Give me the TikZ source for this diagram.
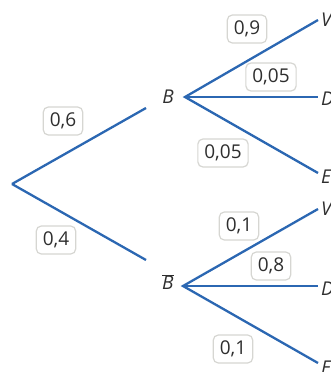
\documentclass[tikz,border=0pt]{standalone}
\usepackage{fontspec}
\setmainfont{Open Sans}
\definecolor{branch}{HTML}{2B67B2}
\definecolor{boxline}{HTML}{D6D6D2}
\definecolor{txt}{HTML}{2E2E2E}
\begin{document}
\begin{tikzpicture}[x=1pt,y=-1pt,
  edge/.style={draw=branch,line width=2.3pt},
  prob/.style={draw=boxline,fill=white,line width=1.2pt,rounded corners=5pt,
    inner xsep=6.5pt,inner ysep=5pt,minimum height=28pt,font=\fontsize{19}{19}\selectfont,text=txt},
  evt/.style={font=\fontsize{19}{19}\selectfont\itshape,text=txt,inner sep=0pt},
  leaf/.style={font=\fontsize{19}{19}\selectfont\itshape,text=txt,inner sep=0pt,anchor=west}]
\useasboundingbox (0,0) rectangle (331,372);
\clip (0,0) rectangle (331,372);
% nodes
\coordinate (root) at (12,184);
\node[evt] (B) at (168,97) {B};
\node[evt] (Bb) at (168,282) {$\overline{\hbox{\itshape B\kern0.5pt}}$};
\coordinate (Bin) at (146,108);
\coordinate (Bbin) at (146,260);
\coordinate (Bout) at (185,97);
\coordinate (Bbout) at (183,286);
\coordinate (V1) at (318,20);
\coordinate (D1) at (318,97);
\coordinate (E1) at (318,173);
\coordinate (V2) at (318,209);
\coordinate (D2) at (318,286);
\coordinate (E2) at (318,363);
\node[leaf] (lV1) at (321,20) {V};
\node[leaf] (lD1) at (321,99) {D};
\node[leaf] (lE1) at (321,177) {E};
\node[leaf] (lV2) at (321,209) {V};
\node[leaf] (lD2) at (321,289) {D};
\node[leaf] (lE2) at (321,368) {E};
% edges
\draw[edge] (root) -- (Bin);
\draw[edge] (root) -- (Bbin);
\draw[edge] (V1) -- (Bout) -- (E1);
\draw[edge] (Bout) -- (D1);
\draw[edge] (V2) -- (Bbout) -- (E2);
\draw[edge] (Bbout) -- (D2);
% probabilities
\node[prob] (p1) at (63,121) {0,6};
\node[prob] (p2) at (56,240) {0,4};
\node[prob] (p3) at (247,29) {0,9};
\node[prob] (p4) at (271,77) {0,05};
\node[prob] (p5) at (223,153) {0,05};
\node[prob] (p6) at (239,226) {0,1};
\node[prob] (p7) at (271,266) {0,8};
\node[prob] (p8) at (233,349) {0,1};
\end{tikzpicture}
\end{document}
